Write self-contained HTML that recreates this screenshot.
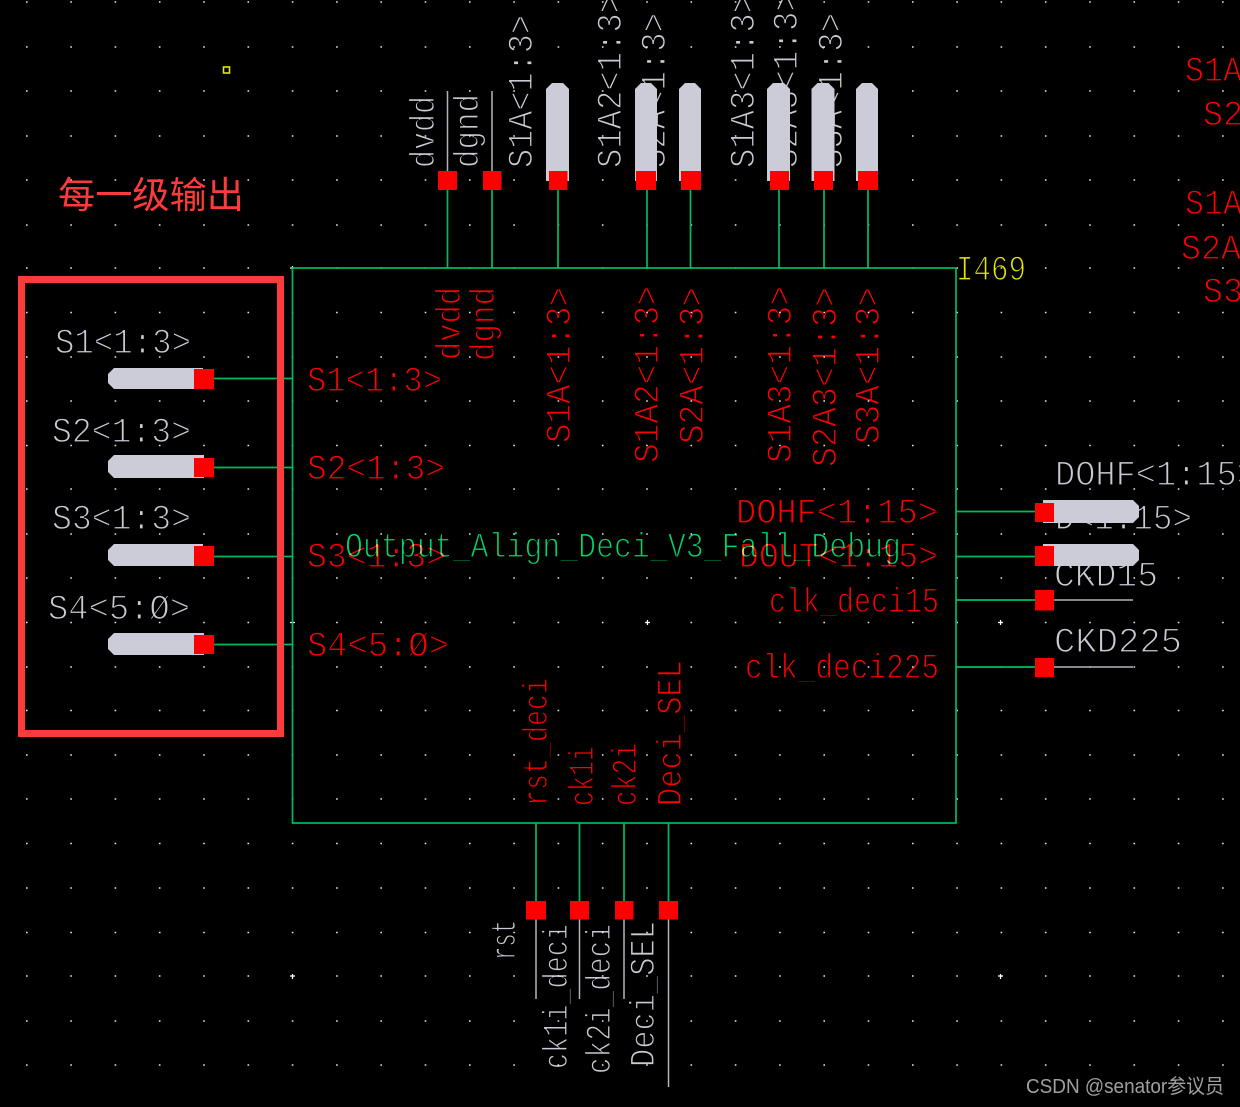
<!DOCTYPE html>
<html>
<head>
<meta charset="utf-8">
<style>
html,body{margin:0;padding:0;background:#000;width:1240px;height:1107px;overflow:hidden}
svg{display:block;position:absolute;left:0;top:0}
text{font-family:"Liberation Mono","Noto Sans CJK SC",monospace;font-size:35px}
.t{stroke:#000;stroke-width:1.2px;paint-order:fill stroke;mix-blend-mode:screen}
.g{fill:#cacad4}
.r{fill:#ff0000}
.n{fill:#00d46a}
.y{fill:#e6e600}
</style>
</head>
<body>
<svg width="1240" height="1107" viewBox="0 0 1240 1107" xmlns="http://www.w3.org/2000/svg">
<rect width="1240" height="1107" fill="#000"/>
<g stroke="#e8e8e8" stroke-width="1.5" stroke-dasharray="1.6 42.7" fill="none">
<path d="M26 2H1240M26 47H1240M26 91H1240M26 136H1240M26 180H1240M26 225H1240M26 268H1240M26 312.5H1240M26 357H1240M26 401H1240M26 445.5H1240M26 489H1240M26 534H1240M26 578H1240M26 622.5H1240M26 667H1240M26 710.5H1240M26 755H1240M26 799H1240M26 843.5H1240M26 888H1240M26 932.5H1240M26 976H1240M26 1021H1240M26 1065H1240"/>
</g>
<g stroke="#fff" stroke-width="1.2" fill="none">
<path d="M290 268h5M292.5 266v5M290 622.5h5M292.5 620v5M645 622.5h5M647.5 620v5M998 622.5h5M1000.5 620v5M290 976h5M292.5 974v5M998 976h5M1000.5 974v5"/>
</g>

<!-- grey labels -->
<g class="t g">
<text transform="translate(434 168) rotate(-90)" textLength="72" lengthAdjust="spacingAndGlyphs">dvdd</text>
<text transform="translate(478 168) rotate(-90)" textLength="74" lengthAdjust="spacingAndGlyphs">dgnd</text>
<text transform="translate(532 168) rotate(-90)" textLength="153" lengthAdjust="spacingAndGlyphs">S1A&lt;1:3&gt;</text>
<text transform="translate(621 168) rotate(-90)" textLength="174" lengthAdjust="spacingAndGlyphs">S1A2&lt;1:3&gt;</text>
<text transform="translate(665 168) rotate(-90)" textLength="155" lengthAdjust="spacingAndGlyphs">S2A&lt;1:3&gt;</text>
<text transform="translate(754 168) rotate(-90)" textLength="174" lengthAdjust="spacingAndGlyphs">S1A3&lt;1:3&gt;</text>
<text transform="translate(797 168) rotate(-90)" textLength="176" lengthAdjust="spacingAndGlyphs">S2A3&lt;1:3&gt;</text>
<text transform="translate(842 168) rotate(-90)" textLength="155" lengthAdjust="spacingAndGlyphs">S3A&lt;1:3&gt;</text>
<text x="55" y="353" textLength="136" lengthAdjust="spacingAndGlyphs">S1&lt;1:3&gt;</text>
<text x="52" y="442" textLength="139" lengthAdjust="spacingAndGlyphs">S2&lt;1:3&gt;</text>
<text x="52" y="529" textLength="139" lengthAdjust="spacingAndGlyphs">S3&lt;1:3&gt;</text>
<text x="48" y="619" textLength="142" lengthAdjust="spacingAndGlyphs">S4&lt;5:Ø&gt;</text>
<text x="1055" y="485" textLength="202" lengthAdjust="spacingAndGlyphs">DOHF&lt;1:15&gt;</text>
<text x="1055" y="529" textLength="137" lengthAdjust="spacingAndGlyphs">D&lt;1:15&gt;</text>
<text x="1054" y="586" textLength="104" lengthAdjust="spacingAndGlyphs">CKD15</text>
<text x="1054" y="652" textLength="128" lengthAdjust="spacingAndGlyphs">CKD225</text>
<text transform="translate(515 960) rotate(-90)" textLength="40" lengthAdjust="spacingAndGlyphs">rst</text>
<text transform="translate(567 1069) rotate(-90)" textLength="145" lengthAdjust="spacingAndGlyphs">ck1i_deci</text>
<text transform="translate(610 1074) rotate(-90)" textLength="150" lengthAdjust="spacingAndGlyphs">ck2i_deci</text>
<text transform="translate(654 1067) rotate(-90)" textLength="146" lengthAdjust="spacingAndGlyphs">Deci_SEL</text>
</g>

<!-- green wires and box -->
<g stroke="#00bb5e" stroke-width="1.7" fill="none">
<rect x="292.5" y="268" width="663.5" height="555"/>
<path d="M447.5 190V268M492 190V268M558 190V268M647 190V268M690.5 190V268M779 190V268M824 190V268M868 190V268"/>
<path d="M214 378.5H292M214 467.5H292M214 556.5H292M214 644.5H292"/>
<path d="M956 511.5H1036M956 556.5H1036M956 600H1036M956 667H1036"/>
<path d="M536 823V901M579.5 823V901M624 823V901M668.5 823V901"/>
</g>

<!-- grey wires -->
<g stroke="#b4b4be" stroke-width="1.5" fill="none">
<path d="M447.5 91V171M492 91V171"/>
<path d="M1054 600H1133M1054 667H1133"/>
<path d="M536 919V999M579.5 919V999M624 919V999M668.5 919V1087"/>
</g>

<!-- pills -->
<g fill="#cbccd8">
<path d="M546 181V89L552 83H563L569 89V181Z"/>
<path d="M635 181V89L641 83H651L657 89V181Z"/>
<path d="M679 181V89L685 83H695L701 89V181Z"/>
<path d="M767 181V89L773 83H784L790 89V181Z"/>
<path d="M811.5 181V89L817.5 83H828.5L834.5 89V181Z"/>
<path d="M856 181V89L862 83H872L878 89V181Z"/>
<path d="M203 368H114L108 374V383L114 389H203Z"/>
<path d="M204 455H114L108 461V472L114 478H204Z"/>
<path d="M203 544H114L108 550V560L114 566H203Z"/>
<path d="M204 633H114L108 639V649L114 655H204Z"/>
<path d="M1043 500H1133L1139 506V517L1133 523H1043Z"/>
<path d="M1043 544H1133L1139 550V560L1133 566H1043Z"/>
</g>

<!-- red squares -->
<g fill="#ff0000">
<rect x="438" y="171" width="19" height="19"/>
<rect x="483" y="171" width="18.500" height="19"/>
<rect x="549" y="171" width="18.500" height="19"/>
<rect x="636" y="171" width="20" height="19"/>
<rect x="681" y="171" width="20" height="19"/>
<rect x="770" y="171" width="19" height="19"/>
<rect x="814" y="171" width="19" height="19"/>
<rect x="858" y="171" width="20" height="19"/>
<rect x="194" y="369" width="20" height="20"/>
<rect x="194" y="458" width="20" height="19"/>
<rect x="194" y="546" width="20" height="20"/>
<rect x="194" y="635" width="20" height="19"/>
<rect x="1035" y="503" width="19" height="19"/>
<rect x="1035" y="546" width="19" height="20"/>
<rect x="1035" y="590" width="19" height="20.500"/>
<rect x="1035" y="658" width="19" height="19"/>
<rect x="526" y="901" width="20" height="18.500"/>
<rect x="570" y="901" width="19" height="18.500"/>
<rect x="615" y="901" width="18.500" height="18.500"/>
<rect x="659" y="901" width="19" height="18.500"/>
</g>

<!-- green instance name -->
<text class="t n" x="345" y="557" textLength="556" lengthAdjust="spacingAndGlyphs">Output_Align_Deci_V3_Fall_Debug</text>

<!-- red labels -->
<g class="t r">
<text transform="translate(460 360) rotate(-90)" textLength="73" lengthAdjust="spacingAndGlyphs">dvdd</text>
<text transform="translate(494 361) rotate(-90)" textLength="74" lengthAdjust="spacingAndGlyphs">dgnd</text>
<text transform="translate(570 443) rotate(-90)" textLength="156" lengthAdjust="spacingAndGlyphs">S1A&lt;1:3&gt;</text>
<text transform="translate(658 463) rotate(-90)" textLength="177" lengthAdjust="spacingAndGlyphs">S1A2&lt;1:3&gt;</text>
<text transform="translate(703 444) rotate(-90)" textLength="157" lengthAdjust="spacingAndGlyphs">S2A&lt;1:3&gt;</text>
<text transform="translate(791 463) rotate(-90)" textLength="177" lengthAdjust="spacingAndGlyphs">S1A3&lt;1:3&gt;</text>
<text transform="translate(836 467) rotate(-90)" textLength="180" lengthAdjust="spacingAndGlyphs">S2A3&lt;1:3&gt;</text>
<text transform="translate(879 444) rotate(-90)" textLength="157" lengthAdjust="spacingAndGlyphs">S3A&lt;1:3&gt;</text>
<text x="307" y="391" textLength="135" lengthAdjust="spacingAndGlyphs">S1&lt;1:3&gt;</text>
<text x="307" y="479" textLength="138" lengthAdjust="spacingAndGlyphs">S2&lt;1:3&gt;</text>
<text x="307" y="567" textLength="139" lengthAdjust="spacingAndGlyphs">S3&lt;1:3&gt;</text>
<text x="307" y="656" textLength="142" lengthAdjust="spacingAndGlyphs">S4&lt;5:Ø&gt;</text>
<text x="736" y="523" textLength="202" lengthAdjust="spacingAndGlyphs">DOHF&lt;1:15&gt;</text>
<text x="739" y="567" textLength="199" lengthAdjust="spacingAndGlyphs">DOUT&lt;1:15&gt;</text>
<text x="769" y="612" textLength="170" lengthAdjust="spacingAndGlyphs">clk_deci15</text>
<text x="745" y="678" textLength="194" lengthAdjust="spacingAndGlyphs">clk_deci225</text>
<text transform="translate(547 806) rotate(-90)" textLength="128" lengthAdjust="spacingAndGlyphs">rst_deci</text>
<text transform="translate(593 806) rotate(-90)" textLength="60" lengthAdjust="spacingAndGlyphs">ck1i</text>
<text transform="translate(636 806) rotate(-90)" textLength="63" lengthAdjust="spacingAndGlyphs">ck2i</text>
<text transform="translate(681 806) rotate(-90)" textLength="146" lengthAdjust="spacingAndGlyphs">Deci_SEL</text>
<text x="1185" y="81" textLength="57" lengthAdjust="spacingAndGlyphs">S1A</text>
<text x="1203" y="125" textLength="40" lengthAdjust="spacingAndGlyphs">S2</text>
<text x="1185" y="214" textLength="57" lengthAdjust="spacingAndGlyphs">S1A</text>
<text x="1181" y="259" textLength="60" lengthAdjust="spacingAndGlyphs">S2A</text>
<text x="1203" y="302" textLength="40" lengthAdjust="spacingAndGlyphs">S3</text>
</g>

<text class="t y" x="956" y="280" textLength="70" lengthAdjust="spacingAndGlyphs">I469</text>
<rect x="223.500" y="67" width="6" height="6" fill="none" stroke="#e6e600" stroke-width="1.6"/>

<!-- annotation -->
<rect x="21.500" y="279.500" width="259" height="454" fill="none" stroke="#ff3a3a" stroke-width="7"/>
<text x="58" y="208" textLength="186" lengthAdjust="spacingAndGlyphs" style="font-family:'Noto Sans CJK SC',sans-serif;font-size:37px;fill:#ff3a3a">每一级输出</text>
<text x="1026" y="1093" textLength="198" lengthAdjust="spacingAndGlyphs" style="font-family:'Liberation Sans','Noto Sans CJK SC',sans-serif;font-size:20px;fill:#a0a0a0">CSDN @senator参议员</text>
</svg>
</body>
</html>
